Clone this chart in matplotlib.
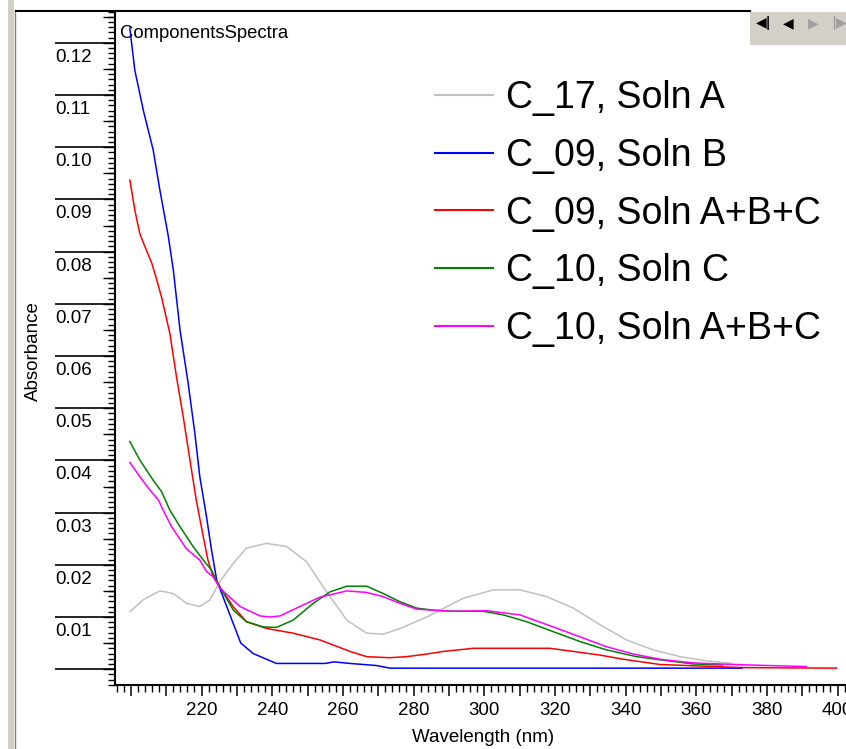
import matplotlib
matplotlib.use('Agg')
import matplotlib.pyplot as plt
import numpy as np
from matplotlib.ticker import MultipleLocator, FuncFormatter
from matplotlib.patches import Rectangle
from matplotlib.lines import Line2D

# --- data ---
labels = ['C_17, Soln A', 'C_09, Soln B', 'C_09, Soln A+B+C', 'C_10, Soln C', 'C_10, Soln A+B+C']
colors = ['#c0c0c0', '#0000ff', '#ff0000', '#008000', '#ff00ff']

wl_c17a = [199.7, 203.5, 208.2, 212.0, 215.8, 219.5, 222.4, 225.2, 229.0, 232.7, 238.4, 244.1,
           249.7, 254.4, 261.1, 266.7, 271.4, 276.2, 283.7, 287.5, 294.1, 302.6, 310.1, 317.7,
           325.2, 332.8, 340.3, 347.8, 355.4, 362.9, 370.0]
ab_c17a = [0.0110, 0.0133, 0.0150, 0.0145, 0.0126, 0.0120, 0.0133, 0.0168, 0.0203, 0.0232, 0.0241, 0.0235,
           0.0206, 0.0158, 0.0094, 0.0069, 0.0067, 0.0078, 0.0100, 0.0113, 0.0136, 0.0152, 0.0152, 0.0139,
           0.0117, 0.0085, 0.0056, 0.0037, 0.0024, 0.0016, 0.0011]

wl_c09b = [199.7, 201.1, 203.5, 206.3, 208.2, 210.6, 212.0, 213.9, 216.2, 218.1, 219.5, 221.4,
           222.8, 224.3, 228.2, 231.1, 234.6, 238.4, 241.2, 255.0, 257.5, 262.0, 269.5, 273.3,
           290.0, 330.0, 373.0]
ab_c09b = [0.1228, 0.1148, 0.1071, 0.0995, 0.0918, 0.0829, 0.0765, 0.0650, 0.0548, 0.0452, 0.0369, 0.0292,
           0.0229, 0.0170, 0.0101, 0.0050, 0.0030, 0.0019, 0.0011, 0.0011, 0.0014, 0.0011, 0.0007, 0.0002,
           0.0002, 0.0002, 0.0002]

wl_c09abc = [199.7, 201.1, 202.5, 204.0, 205.9, 207.3, 208.7, 211.0, 212.9, 214.8, 216.7, 218.5,
             220.3, 221.8, 223.3, 225.2, 228.9, 232.7, 238.4, 245.9, 253.5, 262.0, 266.7, 273.3,
             278.0, 283.7, 288.4, 296.9, 318.6, 325.2, 332.8, 339.4, 349.7, 357.3, 373.3, 399.7]
ab_c09abc = [0.0937, 0.0880, 0.0835, 0.0809, 0.0778, 0.0746, 0.0712, 0.0644, 0.0560, 0.0484, 0.0401, 0.0324,
             0.0260, 0.0209, 0.0177, 0.0158, 0.0120, 0.0091, 0.0078, 0.0069, 0.0056, 0.0034, 0.0024, 0.0022,
             0.0024, 0.0029, 0.0034, 0.0040, 0.0040, 0.0034, 0.0027, 0.0019, 0.0009, 0.0007, 0.0003, 0.0002]

wl_c10c = [199.7, 202.5, 206.3, 208.7, 211.0, 213.9, 217.6, 220.5, 222.8, 224.3, 229.0, 232.7,
           237.4, 241.2, 245.9, 251.6, 256.3, 261.1, 266.7, 271.4, 276.2, 280.9, 285.6, 291.2,
           299.7, 305.4, 312.0, 319.5, 327.1, 334.6, 343.1, 349.7, 359.2, 367.5]
ab_c10c = [0.0436, 0.0401, 0.0362, 0.0340, 0.0305, 0.0273, 0.0235, 0.0209, 0.0190, 0.0168, 0.0113, 0.0091,
           0.0081, 0.0080, 0.0094, 0.0126, 0.0148, 0.0159, 0.0159, 0.0145, 0.0129, 0.0117, 0.0113, 0.0111,
           0.0111, 0.0104, 0.0091, 0.0072, 0.0053, 0.0037, 0.0024, 0.0018, 0.0010, 0.0008]

wl_c10abc = [199.7, 202.5, 205.4, 207.8, 209.1, 211.5, 215.8, 219.5, 221.4, 223.3, 225.2, 230.9,
             236.5, 239.4, 242.2, 247.8, 253.5, 261.1, 266.7, 271.4, 276.2, 280.9, 290.3, 300.7,
             310.1, 319.5, 327.1, 334.6, 342.2, 349.7, 359.2, 366.7, 375.2, 391.2]
ab_c10abc = [0.0396, 0.0369, 0.0343, 0.0324, 0.0305, 0.0273, 0.0230, 0.0209, 0.0187, 0.0177, 0.0155, 0.0120,
             0.0102, 0.0100, 0.0102, 0.0120, 0.0138, 0.0150, 0.0147, 0.0139, 0.0126, 0.0115, 0.0111, 0.0112,
             0.0104, 0.0081, 0.0062, 0.0043, 0.0029, 0.0019, 0.0012, 0.0010, 0.0008, 0.0005]

series = [(wl_c17a, ab_c17a), (wl_c09b, ab_c09b), (wl_c09abc, ab_c09abc),
          (wl_c10c, ab_c10c), (wl_c10abc, ab_c10abc)]

W, H = 846, 749
fig = plt.figure(figsize=(W / 100, H / 100), dpi=100)
plt.rcParams['font.family'] = ['Liberation Sans', 'DejaVu Sans']


def fx(px):
    return px / W


def fy(py):
    return 1 - py / H


# window frame bits
fig.add_artist(Rectangle((fx(8), 0), fx(6), 1, transform=fig.transFigure, color='#d4d0c8', lw=0))
fig.add_artist(Line2D([fx(14.5), fx(14.5)], [0, fy(10)], transform=fig.transFigure, color='#808080', lw=1))
fig.add_artist(Line2D([fx(15.5), fx(750)], [fy(10.5), fy(10.5)], transform=fig.transFigure, color='black', lw=1.5))

ax = fig.add_axes([fx(115), fy(685), fx(846 - 115), (685 - 11) / H])
ax.spines['top'].set_visible(False)
ax.spines['right'].set_visible(False)
ax.spines['left'].set_linewidth(1.5)
ax.spines['bottom'].set_linewidth(1.5)

for (x, y), c, lab in zip(series, colors, labels):
    ax.plot(x, y, color=c, lw=1.1, label=lab)

ax.set_xlim(195.5, 402.4)
ax.set_ylim(-0.00303, 0.1261)

# x ticks
ax.xaxis.set_major_locator(MultipleLocator(10))
ax.xaxis.set_minor_locator(MultipleLocator(2))
ax.xaxis.set_major_formatter(FuncFormatter(
    lambda v, p: '%d' % round(v) if (round(v) % 20 == 0 and 220 <= round(v) <= 400) else ''))
ax.tick_params(axis='x', which='major', length=7.9, width=1.1, pad=4, labelsize=13.5)
ax.tick_params(axis='x', which='minor', length=4.7, width=1.0)

# y ticks: long major lines, labels under them
ax.yaxis.set_major_locator(MultipleLocator(0.01))
ax.yaxis.set_minor_locator(MultipleLocator(0.001))
ax.tick_params(axis='y', which='major', length=43.2, width=1.2, labelleft=False)
ax.tick_params(axis='y', which='minor', length=5.0, width=1.0)
ymid = ax.secondary_yaxis('left')
ymid.yaxis.set_major_locator(MultipleLocator(0.005))
ymid.tick_params(axis='y', length=8.6, width=1.0, labelleft=False)
ymid.spines['left'].set_visible(False)

ytick_vals = [0.01, 0.02, 0.03, 0.04, 0.05, 0.06, 0.07, 0.08, 0.09, 0.10, 0.11, 0.12]
for v in ytick_vals:
    ax.annotate('%.2f' % v, xy=(0, v), xycoords=('axes fraction', 'data'),
                xytext=(-60, -6), textcoords='offset pixels',
                ha='left', va='top', fontsize=13.5)

fig.text(fx(33), fy(351), 'Absorbance', rotation=90, ha='center', va='center', fontsize=13.5)
fig.text(fx(483), fy(737), 'Wavelength (nm)', ha='center', va='center', fontsize=13.5)
fig.text(fx(120), fy(34), 'ComponentsSpectra', ha='left', va='center', fontsize=13.3)

# toolbar
fig.add_artist(Rectangle((fx(750), fy(45)), fx(96), (45 - 12) / H, transform=fig.transFigure,
                         color='#d4d0c8', lw=0))
for px, s, c in [(764, '\u25c0|', 'black'), (788, '\u25c0', 'black'),
                 (813, '\u25b6', '#a0a0a0'), (839, '|\u25b6', '#a0a0a0')]:
    fig.text(fx(px), fy(23), s, ha='center', va='center', fontsize=10, color=c,
             fontweight='bold', family='DejaVu Sans')

leg = ax.legend(loc='upper left', bbox_to_anchor=(fx(435), fy(80)), bbox_transform=fig.transFigure,
                frameon=False, fontsize=27, handlelength=1.55, handletextpad=0.35,
                labelspacing=0.58, borderpad=0, borderaxespad=0)
for line in leg.get_lines():
    line.set_linewidth(1.5)

fig.savefig('out.png', dpi=100)
